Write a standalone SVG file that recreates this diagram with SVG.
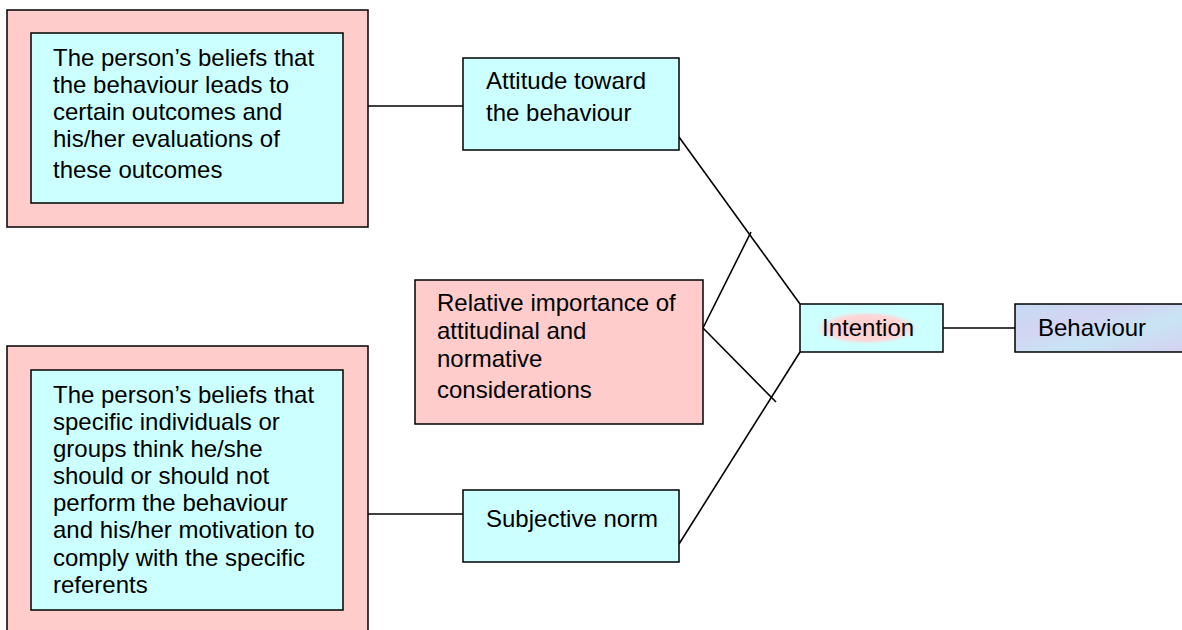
<svg xmlns="http://www.w3.org/2000/svg" width="1182" height="630" viewBox="0 0 1182 630">
<style>
.pink{fill:#FFCCCC;stroke:#000;stroke-width:1.5}
.cyan{fill:#CCFFFF;stroke:#000;stroke-width:1.5}
text{font-family:"Liberation Sans",Arial,sans-serif;font-size:24px;fill:#000}
.con line{stroke:#000;stroke-width:1.6}
</style>
<defs>
<linearGradient id="beh" x1="0" y1="0" x2="1" y2="1">
<stop offset="0" stop-color="#C6DAF2"/>
<stop offset="0.35" stop-color="#D3D5F2"/>
<stop offset="0.6" stop-color="#C8E4F4"/>
<stop offset="1" stop-color="#D6D0F0"/>
</linearGradient>
<radialGradient id="glow" cx="0.5" cy="0.5" r="0.5">
<stop offset="0" stop-color="#FFCCCC"/>
<stop offset="0.7" stop-color="#FFD6D6"/>
<stop offset="1" stop-color="#CCFFFF" stop-opacity="0"/>
</radialGradient>
</defs>
<g class="con">
<line x1="368" y1="106" x2="463" y2="106"/>
<line x1="368" y1="514" x2="463" y2="514"/>
<line x1="679" y1="137" x2="800" y2="304"/>
<line x1="679" y1="544" x2="800" y2="352"/>
<line x1="703" y1="328" x2="751" y2="232"/>
<line x1="703" y1="328" x2="776" y2="402"/>
<line x1="943" y1="328" x2="1015" y2="328"/>
</g>
<g id="beliefs-outcomes">
<rect class="pink" x="7" y="10" width="361" height="217"/>
<rect class="cyan" x="31" y="33" width="312" height="170"/>
<text x="53" y="66">The person’s beliefs that</text>
<text x="53" y="93">the behaviour leads to</text>
<text x="53" y="120">certain outcomes and</text>
<text x="53" y="147">his/her evaluations of</text>
<text x="53" y="178">these outcomes</text>
</g>
<g id="beliefs-referents">
<rect class="pink" x="7" y="346" width="361" height="300"/>
<rect class="cyan" x="31" y="370" width="312" height="240"/>
<text x="53" y="403">The person’s beliefs that</text>
<text x="53" y="430">specific individuals or</text>
<text x="53" y="457">groups think he/she</text>
<text x="53" y="484">should or should not</text>
<text x="53" y="511">perform the behaviour</text>
<text x="53" y="538">and his/her motivation to</text>
<text x="53" y="566">comply with the specific</text>
<text x="53" y="593">referents</text>
</g>
<g id="attitude">
<rect class="cyan" x="463" y="58" width="216" height="92"/>
<text x="486" y="89">Attitude toward</text>
<text x="486" y="121">the behaviour</text>
</g>
<g id="relative">
<rect class="pink" x="415" y="280" width="288" height="144"/>
<text x="437" y="311">Relative importance of</text>
<text x="437" y="339">attitudinal and</text>
<text x="437" y="367">normative</text>
<text x="437" y="398">considerations</text>
</g>
<g id="subjective">
<rect class="cyan" x="463" y="490" width="216" height="72"/>
<text x="486" y="527">Subjective norm</text>
</g>
<g id="intention">
<rect class="cyan" x="800" y="304" width="143" height="48"/>
<ellipse cx="867" cy="328" rx="56" ry="18" fill="url(#glow)"/>
<text x="822" y="336">Intention</text>
</g>
<g id="behaviour">
<rect x="1015" y="304" width="180" height="48" fill="url(#beh)" stroke="#000" stroke-width="1.5"/>
<text x="1038" y="336">Behaviour</text>
</g>
</svg>
